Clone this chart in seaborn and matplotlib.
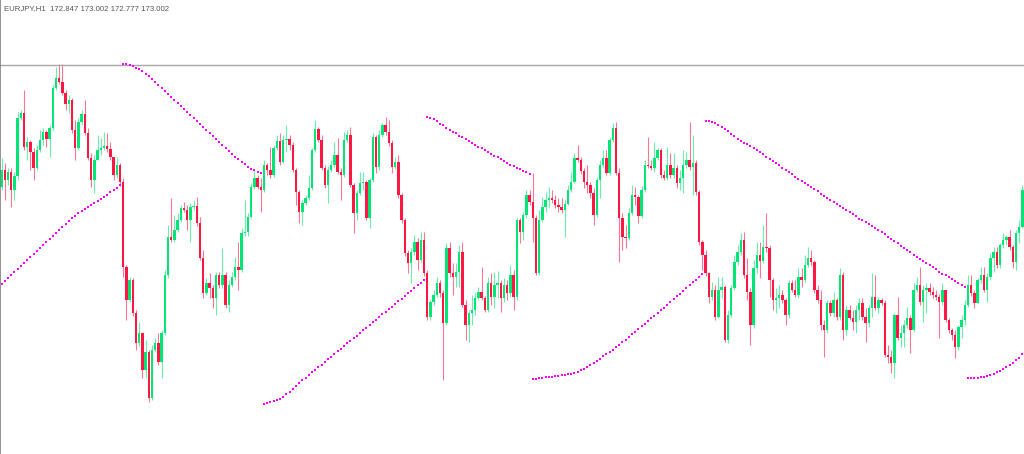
import numpy as np
import pandas as pd
import matplotlib
matplotlib.use("Agg")
import matplotlib.pyplot as plt
import seaborn as sns

# EURJPY H1 candles + parabolic SAR
symbol = "EURJPY,H1"
last_quote = [172.847, 173.002, 172.777, 173.002]
level_line = 174.35

first_open = 173.13
closes = [
    173.30, 173.20, 173.28, 173.10, 173.24, 173.82, 173.87, 173.53, 173.58, 173.48,
    173.32, 173.50, 173.60, 173.68, 173.61, 173.72, 174.12, 174.22, 174.18, 174.07,
    173.96, 174.00, 173.70, 173.52, 173.78, 173.86, 173.67, 173.42, 173.20, 173.40,
    173.50, 173.52, 173.54, 173.51, 173.43, 173.25, 173.35, 173.18, 172.33, 172.00,
    172.20, 171.87, 171.57, 171.67, 171.30, 171.48, 171.02, 171.50, 171.57, 171.38,
    171.67, 172.25, 172.63, 172.60, 172.70, 172.80, 172.92, 172.90, 172.80, 172.93,
    172.94, 172.77, 172.42, 172.07, 172.17, 172.12, 172.02, 172.25, 172.15, 172.25,
    171.95, 172.15, 172.23, 172.33, 172.30, 172.67, 172.68, 172.83, 173.13, 173.22,
    173.13, 173.10, 173.35, 173.30, 173.25, 173.52, 173.59, 173.38, 173.60, 173.61,
    173.55, 173.30, 173.08, 172.88, 172.97, 173.02, 173.12, 173.50, 173.71, 173.60,
    173.32, 173.15, 173.30, 173.35, 173.45, 173.28, 173.25, 173.60, 173.65, 173.15,
    172.87, 173.07, 173.17, 173.18, 172.82, 173.20, 173.63, 173.33, 173.65, 173.75,
    173.68, 173.57, 173.33, 173.38, 173.05, 172.80, 172.47, 172.37, 172.48, 172.58,
    172.40, 172.60, 172.27, 171.83, 171.98, 172.05, 172.17, 172.07, 171.77, 172.52,
    172.27, 172.23, 172.28, 172.48, 171.95, 171.75, 171.87, 171.90, 172.02, 172.08,
    172.02, 171.90, 172.17, 172.03, 172.15, 172.17, 172.02, 172.15, 172.07, 172.25,
    172.03, 172.80, 172.68, 172.85, 173.05, 172.98, 172.82, 172.27, 172.80, 172.93,
    173.00, 173.02, 173.00, 172.95, 172.93, 172.90, 172.96, 173.10, 173.18, 173.42,
    173.40, 173.29, 173.18, 173.15, 173.07, 172.85, 173.20, 173.35, 173.42, 173.27,
    173.60, 173.72, 173.27, 172.82, 172.63, 172.62, 172.87, 173.05, 173.03, 172.84,
    173.10, 173.35, 173.34, 173.32, 173.42, 173.50, 173.25, 173.22, 173.35, 173.25,
    173.32, 173.17, 173.22, 173.35, 173.40, 173.33, 173.37, 173.08, 172.58, 172.45,
    172.27, 172.03, 172.10, 171.83, 172.10, 172.13, 171.60, 171.85, 172.12, 172.38,
    172.48, 172.60, 172.25, 172.08, 171.75, 172.32, 172.45, 172.39, 172.53, 172.52,
    172.20, 172.00, 172.02, 172.05, 172.00, 171.85, 172.17, 172.10, 172.05, 172.23,
    172.20, 172.35, 172.42, 172.38, 172.10, 172.00, 171.75, 171.70, 171.97, 171.87,
    172.00, 171.83, 172.25, 171.70, 171.90, 171.82, 171.78, 171.90, 171.97, 171.83,
    171.77, 171.92, 172.03, 171.92, 172.00, 171.97, 171.45, 171.43, 171.37, 171.85,
    171.62, 171.67, 171.75, 171.82, 171.70, 172.10, 172.15, 171.98, 172.10, 172.12,
    172.08, 172.05, 172.03, 171.98, 172.10, 171.80, 171.70, 171.65, 171.53, 171.73,
    171.80, 171.95, 172.15, 172.07, 171.97, 172.20, 172.25, 172.10, 172.23, 172.42,
    172.48, 172.35, 172.55, 172.60, 172.63, 172.53, 172.38, 172.67, 172.73, 173.10,
]
highs = [
    173.42, 173.37, 173.32, 173.32, 173.28, 173.88, 173.90, 174.10, 173.63, 173.60,
    173.52, 173.55, 173.70, 173.72, 173.70, 173.75, 174.15, 174.33, 174.36, 174.36,
    174.10, 174.05, 174.02, 173.80, 173.82, 173.90, 174.00, 173.72, 173.47, 173.45,
    173.65, 173.62, 173.68, 173.67, 173.58, 173.43, 173.43, 173.37, 173.22, 172.35,
    172.23, 172.22, 171.90, 171.78, 171.67, 171.60, 171.50, 171.55, 171.62, 171.67,
    171.70, 172.30, 172.75, 173.02, 172.85, 172.87, 172.95, 172.98, 172.95, 172.97,
    173.00, 173.03, 172.83, 172.50, 172.22, 172.27, 172.15, 172.28, 172.28, 172.52,
    172.28, 172.20, 172.28, 172.43, 172.58, 172.72, 173.00, 172.87, 173.17, 173.30,
    173.25, 173.22, 173.40, 173.37, 173.53, 173.55, 173.65, 173.67, 173.65, 173.75,
    173.65, 173.58, 173.32, 173.10, 173.00, 173.05, 173.25, 173.52, 173.80, 173.73,
    173.65, 173.35, 173.34, 173.40, 173.58, 173.62, 173.32, 173.68, 173.70, 173.73,
    173.17, 173.10, 173.28, 173.28, 173.20, 173.22, 173.67, 173.65, 173.70, 173.77,
    173.83, 173.80, 173.60, 173.43, 173.45, 173.07, 172.82, 172.50, 172.52, 172.65,
    172.62, 172.68, 172.68, 172.30, 172.00, 172.10, 172.23, 172.20, 172.10, 172.57,
    172.58, 172.37, 172.37, 172.55, 172.58, 172.00, 171.90, 172.05, 172.07, 172.13,
    172.33, 172.04, 172.23, 172.27, 172.28, 172.29, 172.20, 172.22, 172.20, 172.35,
    172.30, 172.82, 172.82, 172.88, 173.10, 173.10, 173.27, 172.85, 172.90, 173.03,
    173.08, 173.13, 173.10, 173.05, 173.02, 173.02, 173.00, 173.15, 173.28, 173.47,
    173.55, 173.43, 173.32, 173.35, 173.18, 173.12, 173.23, 173.40, 173.50, 173.50,
    173.63, 173.77, 173.78, 173.32, 172.87, 172.75, 172.92, 173.15, 173.13, 173.05,
    173.14, 173.40, 173.63, 173.40, 173.58, 173.52, 173.52, 173.30, 173.53, 173.47,
    173.47, 173.35, 173.30, 173.50, 173.48, 173.78, 173.65, 173.40, 173.10, 172.60,
    172.50, 172.28, 172.18, 172.15, 172.23, 172.23, 172.15, 171.90, 172.15, 172.45,
    172.55, 172.67, 172.68, 172.42, 172.12, 172.40, 172.58, 172.58, 172.75, 172.87,
    172.55, 172.22, 172.12, 172.15, 172.10, 172.02, 172.20, 172.20, 172.20, 172.32,
    172.32, 172.45, 172.53, 172.50, 172.40, 172.15, 172.10, 171.80, 172.00, 172.00,
    172.08, 172.02, 172.32, 172.28, 171.95, 171.95, 171.90, 171.95, 172.02, 172.02,
    171.92, 171.95, 172.27, 172.25, 172.03, 172.02, 172.00, 171.55, 171.50, 171.87,
    172.03, 171.75, 171.80, 171.93, 171.85, 172.17, 172.23, 172.33, 172.15, 172.17,
    172.17, 172.13, 172.10, 172.06, 172.17, 172.10, 171.82, 171.72, 171.70, 171.75,
    171.85, 172.00, 172.25, 172.25, 172.10, 172.22, 172.33, 172.33, 172.27, 172.47,
    172.53, 172.53, 172.57, 172.67, 172.65, 172.70, 172.55, 172.70, 172.80, 173.15,
]
lows = [
    173.10, 173.00, 173.15, 172.93, 173.00, 173.20, 173.80, 173.50, 173.40, 173.30,
    173.20, 173.30, 173.48, 173.55, 173.53, 173.43, 173.70, 174.10, 174.16, 174.05,
    173.90, 173.87, 173.67, 173.40, 173.50, 173.75, 173.65, 173.40, 173.13, 173.07,
    173.40, 173.45, 173.50, 173.48, 173.40, 173.20, 173.22, 173.14, 172.23, 171.80,
    171.98, 171.84, 171.50, 171.54, 171.22, 171.22, 170.98, 171.00, 171.48, 171.35,
    171.22, 171.65, 172.22, 172.58, 172.58, 172.68, 172.78, 172.88, 172.70, 172.58,
    172.90, 172.74, 172.40, 172.02, 172.05, 172.02, 171.92, 171.85, 172.12, 172.12,
    171.92, 171.88, 172.13, 172.20, 172.10, 172.28, 172.64, 172.64, 172.82, 173.11,
    173.11, 172.88, 173.08, 173.25, 173.22, 173.23, 173.50, 173.35, 173.37, 173.48,
    173.50, 173.28, 172.95, 172.77, 172.75, 172.95, 173.00, 173.10, 173.48, 173.58,
    173.30, 173.12, 172.97, 173.28, 173.33, 173.26, 173.00, 173.23, 173.58, 173.13,
    172.67, 172.80, 173.05, 173.10, 172.80, 172.72, 173.18, 173.27, 173.30, 173.63,
    173.65, 173.54, 173.27, 173.31, 173.02, 172.77, 172.44, 172.27, 172.17, 172.45,
    172.30, 172.38, 172.24, 171.80, 171.80, 171.95, 172.03, 172.03, 171.20, 171.75,
    172.23, 172.05, 172.13, 172.13, 171.93, 171.60, 171.58, 171.75, 171.85, 172.00,
    172.00, 171.88, 171.88, 171.95, 171.92, 172.02, 171.88, 171.98, 172.00, 172.03,
    171.90, 172.00, 172.57, 172.60, 172.82, 172.95, 172.58, 172.25, 172.25, 172.78,
    172.88, 172.93, 172.97, 172.92, 172.88, 172.87, 172.63, 172.95, 173.08, 173.17,
    173.38, 173.26, 173.12, 173.07, 173.02, 172.75, 172.83, 173.02, 173.33, 173.25,
    173.25, 173.58, 173.25, 172.38, 172.50, 172.52, 172.60, 172.85, 172.95, 172.77,
    172.82, 173.08, 173.32, 173.30, 173.28, 173.40, 173.22, 173.20, 173.20, 173.22,
    173.22, 173.12, 173.10, 173.07, 173.32, 173.30, 173.05, 173.05, 172.55, 172.30,
    172.24, 171.97, 172.00, 171.80, 171.82, 172.02, 171.58, 171.57, 171.83, 172.10,
    172.35, 172.45, 172.22, 172.00, 171.55, 171.72, 172.27, 172.22, 172.37, 172.48,
    172.03, 171.90, 171.87, 171.92, 171.97, 171.75, 171.82, 172.08, 172.03, 172.02,
    172.13, 172.18, 172.33, 172.35, 172.07, 171.97, 171.70, 171.43, 171.67, 171.84,
    171.83, 171.80, 171.80, 171.60, 171.65, 171.80, 171.70, 171.67, 171.80, 171.80,
    171.58, 171.73, 171.83, 171.90, 171.87, 171.95, 171.43, 171.37, 171.27, 171.22,
    171.60, 171.53, 171.53, 171.72, 171.47, 171.68, 172.08, 171.95, 171.78, 171.87,
    172.05, 172.02, 172.00, 171.62, 171.95, 171.78, 171.67, 171.60, 171.42, 171.50,
    171.62, 171.75, 171.93, 172.04, 171.92, 171.97, 172.17, 172.08, 171.98, 172.20,
    172.28, 172.32, 172.32, 172.52, 172.55, 172.50, 172.32, 172.30, 172.57, 172.72,
]
sar = [
    # below, rising
    172.165, 172.195, 172.224, 172.254, 172.284, 172.313, 172.343, 172.373, 172.403, 172.432,
    172.462, 172.492, 172.522, 172.551, 172.581, 172.611, 172.640, 172.670, 172.700, 172.730,
    172.760, 172.790, 172.820, 172.845, 172.866, 172.887, 172.908, 172.929, 172.950, 172.971,
    172.992, 173.013, 173.034, 173.055, 173.076, 173.097, 173.118, 173.150,
    # above, falling
    174.360, 174.357, 174.350, 174.340, 174.325, 174.310, 174.290, 174.265, 174.240, 174.210,
    174.180, 174.150, 174.120, 174.090, 174.060, 174.030, 174.000, 173.970, 173.940, 173.910,
    173.880, 173.850, 173.820, 173.790, 173.760, 173.730, 173.700, 173.670, 173.640, 173.610,
    173.580, 173.550, 173.520, 173.490, 173.460, 173.435, 173.410, 173.385, 173.360, 173.335,
    173.315, 173.300, 173.285, 173.275,
    # below, rising
    170.965, 170.970, 170.980, 170.990, 171.000, 171.015, 171.035, 171.060, 171.085, 171.110,
    171.140, 171.170, 171.197, 171.223, 171.250, 171.276, 171.302, 171.329, 171.355, 171.381,
    171.408, 171.434, 171.460, 171.487, 171.513, 171.540, 171.566, 171.592, 171.619, 171.645,
    171.671, 171.698, 171.724, 171.750, 171.777, 171.803, 171.830, 171.856, 171.882, 171.909,
    171.935, 171.961, 171.988, 172.014, 172.040, 172.067, 172.093, 172.119, 172.146, 172.172,
    172.198,
    # above, falling
    173.833, 173.825, 173.812, 173.790, 173.765, 173.747, 173.725, 173.702, 173.685, 173.667,
    173.645, 173.630, 173.613, 173.590, 173.572, 173.555, 173.533, 173.517, 173.498, 173.478,
    173.460, 173.443, 173.427, 173.410, 173.392, 173.373, 173.355, 173.340, 173.325, 173.310,
    173.293, 173.277, 173.260,
    # below, rising
    171.210, 171.215, 171.220, 171.225, 171.230, 171.232, 171.235, 171.238, 171.242, 171.247,
    171.252, 171.258, 171.265, 171.275, 171.285, 171.298, 171.315, 171.335, 171.355, 171.375,
    171.395, 171.415, 171.437, 171.459, 171.482, 171.505, 171.530, 171.555, 171.580, 171.605,
    171.630, 171.657, 171.684, 171.710, 171.737, 171.763, 171.790, 171.817, 171.844, 171.871,
    171.898, 171.925, 171.953, 171.981, 172.009, 172.037, 172.065, 172.093, 172.121, 172.149,
    172.177, 172.205, 172.233, 172.260,
    # above, falling
    173.790, 173.787, 173.780, 173.770, 173.752, 173.732, 173.710, 173.687, 173.662, 173.637,
    173.612, 173.594, 173.575, 173.557, 173.538, 173.518, 173.499, 173.480, 173.458, 173.435,
    173.413, 173.390, 173.368, 173.346, 173.323, 173.301, 173.278, 173.256, 173.234, 173.211,
    173.190, 173.169, 173.148, 173.127, 173.106, 173.086, 173.065, 173.044, 173.023, 173.002,
    172.982, 172.961, 172.940, 172.919, 172.898, 172.878, 172.857, 172.836, 172.815, 172.796,
    172.776, 172.757, 172.738, 172.719, 172.700, 172.679, 172.656, 172.634, 172.612, 172.589,
    172.567, 172.544, 172.522, 172.500, 172.477, 172.455, 172.432, 172.410, 172.389, 172.368,
    172.348, 172.327, 172.306, 172.285, 172.265, 172.246, 172.227, 172.208, 172.190, 172.171,
    172.152, 172.133,
    # below, rising
    171.217, 171.218, 171.220, 171.224, 171.228, 171.234, 171.242, 171.252, 171.262, 171.276,
    171.293, 171.313, 171.333, 171.353, 171.373, 171.397, 171.422, 171.465,
]

df = pd.DataFrame({
    "open": [first_open] + closes[:-1],
    "high": highs,
    "low": lows,
    "close": closes,
    "sar": sar,
})
df["bar"] = np.arange(len(df))

bull = "#00E676"
bear = "#FF1744"
colors = np.where(df["close"] >= df["open"], bull, bear)

sns.set_style("white")
fig = plt.figure(figsize=(10.24, 4.54), dpi=100)
ax = fig.add_axes([0, 0, 1, 1])

# wicks then bodies
ax.vlines(df["bar"], df["low"], df["high"], colors=colors, linewidth=0.8, alpha=0.6)
body = (df["close"] - df["open"]).abs().clip(lower=0.012)
ax.bar(df["bar"], body, bottom=df[["open", "close"]].min(axis=1),
       width=0.8, color=colors, linewidth=0)

sns.scatterplot(data=df, x="bar", y="sar", marker="s", color="#FF00FF",
                s=4, linewidth=0, ax=ax, zorder=3)

ax.axhline(level_line, color="#A8A8A8", lw=1)

ax.set_xlim(-0.5, 319.5)
ax.set_ylim(170.46, 175.0)
ax.set_xticks([])
ax.set_yticks([])
ax.set_xlabel("")
ax.set_ylabel("")
for side in ["top", "right", "bottom"]:
    ax.spines[side].set_visible(False)
ax.spines["left"].set_color("#808080")
ax.spines["left"].set_linewidth(1.2)

header = symbol + "  " + " ".join(f"{v:.3f}" for v in last_quote)
ax.text(0.004, 0.989, header, transform=ax.transAxes, fontsize=5.6,
        color="#555555", va="top", ha="left", family="Liberation Sans")

fig.savefig("out.png", dpi=100)
